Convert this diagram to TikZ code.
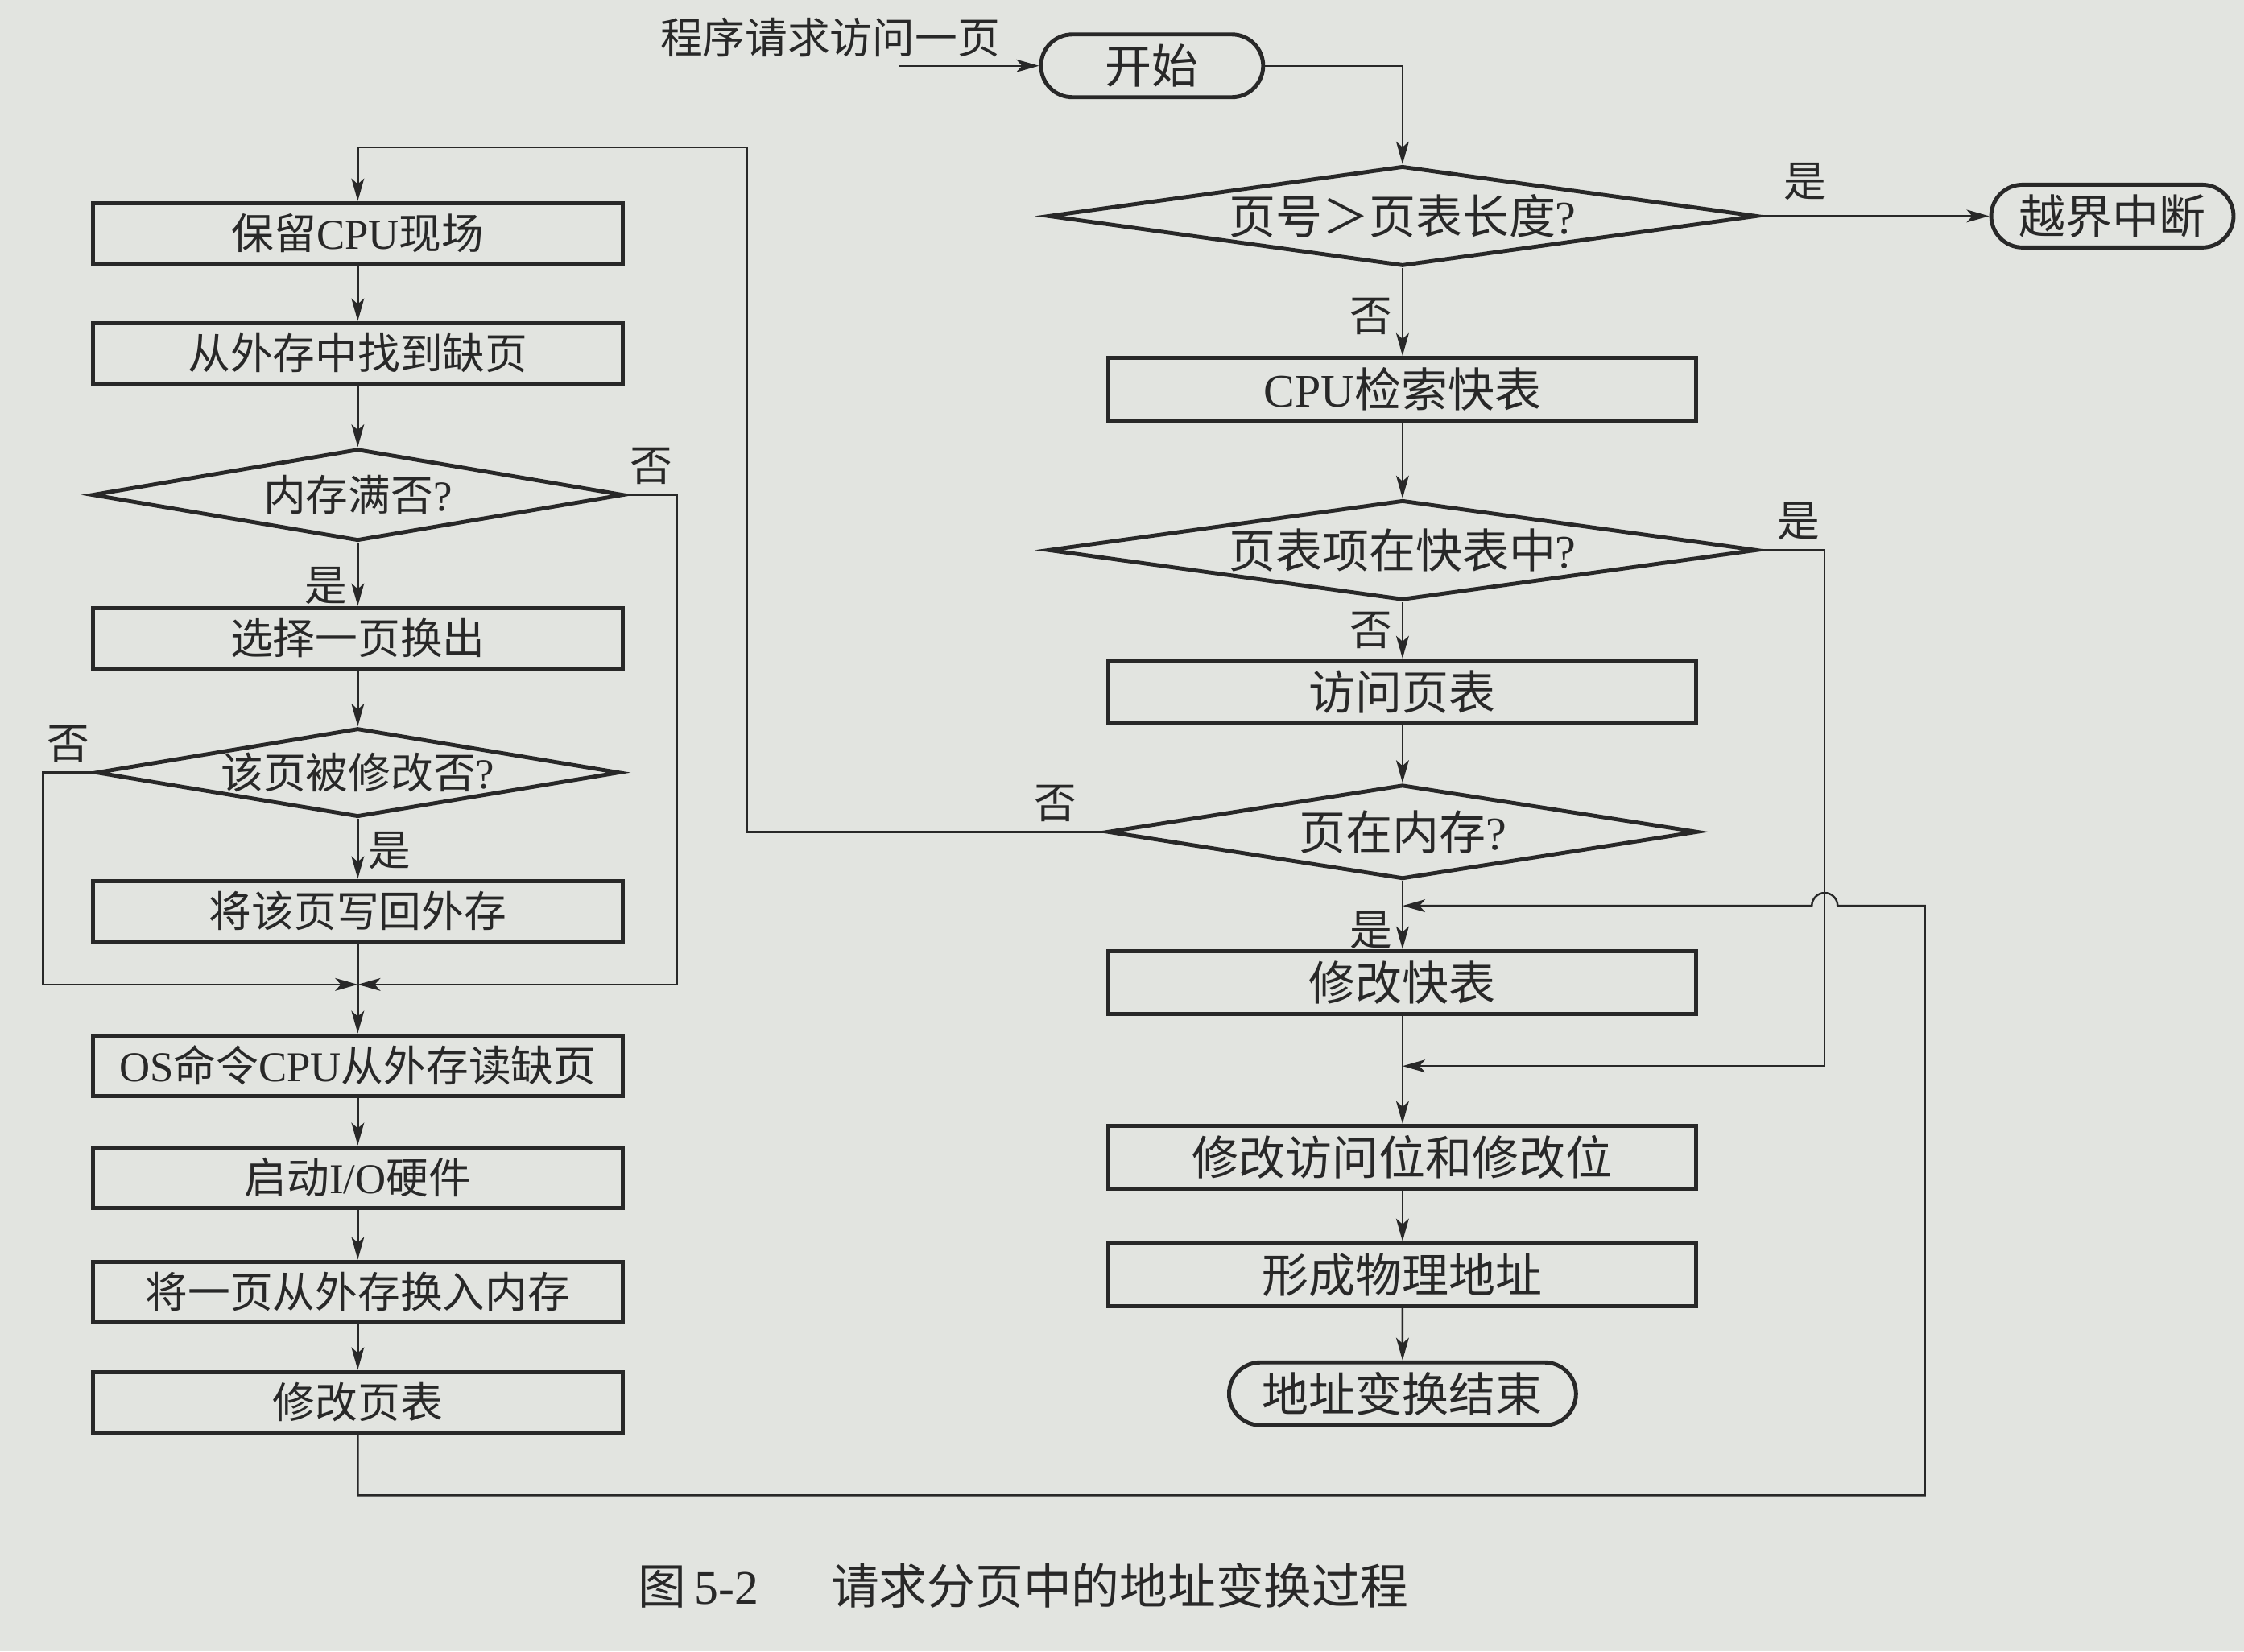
\documentclass[tikz,border=0pt]{standalone}
\usepackage{fontspec}
\setmainfont{Noto Sans CJK SC}
\newfontfamily\lat{Liberation Serif}
\usetikzlibrary{shapes.geometric,shapes.misc,arrows.meta,positioning}
\definecolor{paper}{RGB}{226,228,224}
\definecolor{ink}{RGB}{40,40,40}
\newcommand\ask[1]{\makebox[0pt]{#1}}

\begin{document}
\begin{tikzpicture}[x=0.017774cm,y=-0.017774cm,on grid,
  font=\fontsize{15pt}{18pt}\selectfont,>={Stealth[length=8pt,width=4.5pt,inset=2pt]},
  every node/.style={text=ink},
  line/.style={draw=ink,line width=0.7pt},
  big/.style={font=\fontsize{16.5pt}{19pt}\selectfont},
  proc/.style={draw=ink,line width=1.4pt,rectangle,minimum width=7.3cm,minimum height=0.78cm,inner sep=2pt},
  lproc/.style={proc,minimum width=6.58cm,minimum height=0.75cm},
  test/.style={draw=ink,line width=1.4pt,diamond,inner sep=0pt},
  term/.style={draw=ink,line width=1.4pt,rounded rectangle,minimum height=0.78cm,inner sep=2pt}]
 \fill[paper] (0,0) rectangle (1568,1154);
 \useasboundingbox (0,0) rectangle (1568,1154);
 % right column
 \node (req) at (580,26) {程序请求访问一页};
 \coordinate (reqarr) at (628,46);
 \node[term,big,minimum width=2.9cm] (start) at (805,46) {开始};
 \node[test,big,minimum width=8.8cm,minimum height=1.24cm] (len) at (980,151) {\ask{页号＞页表长度{\lat ?}}};
 \node[term,big,minimum width=3.15cm] (fault) at (1476,151) {越界中断};
 \node[proc,big] (tlb) [below=2.15cm of len] {{\lat CPU}检索快表};
 \node[test,big,minimum width=8.8cm,minimum height=1.24cm] (intlb) [below=2cm of tlb] {\ask{页表项在快表中{\lat ?}}};
 \node[proc,big] (pt) [below=1.76cm of intlb] {访问页表};
 \node[test,big,minimum width=7.33cm,minimum height=1.17cm] (inmem) [below=1.74cm of pt] {\ask{页在内存{\lat ?}}};
 \node[proc,big] (updtlb) [below=1.87cm of inmem] {修改快表};
 \node[proc,big] (bits) [below=2.17cm of updtlb] {修改访问位和修改位};
 \node[proc,big] (phys) [below=1.46cm of bits] {形成物理地址};
 \node[term,big,minimum width=4.45cm] (done) [below=1.48cm of phys] {地址变换结束};
 % left column
 \node[lproc] (save) at (250,163) {保留{\lat CPU}现场};
 \node[lproc] (find) [below=1.49cm of save] {从外存中找到缺页};
 \node[test,minimum width=6.6cm,minimum height=1.14cm] (full) [below=1.76cm of find] {\ask{内存满否{\lat ?}}};
 \node[lproc] (out) [below=1.78cm of full] {选择一页换出};
 \node[test,minimum width=6.5cm,minimum height=1.1cm] (dirty) [below=1.67cm of out] {\ask{该页被修改否{\lat ?}}};
 \node[lproc] (wb) [below=1.72cm of dirty] {将该页写回外存};
 \node[lproc] (os) [below=1.92cm of wb] {{\lat OS}命令{\lat CPU}从外存读缺页};
 \node[lproc] (io) [below=1.39cm of os] {启动{\lat I/O}硬件};
 \node[lproc] (load) [below=1.42cm of io] {将一页从外存换入内存};
 \node[lproc] (updpt) [below=1.37cm of load] {修改页表};
 \node[font=\fontsize{17pt}{20pt}\selectfont] (cap) at (715,1108) {图\,{\lat 5-2}\hspace{0.9cm}请求分页中的地址变换过程};
 % turning points
 \coordinate (jn) at (250,688);
 \coordinate (jnR) at (473,688);
 \coordinate (jnL) at (30,688);
 \coordinate (miss) at (522,103);
 \coordinate (hit) at (1275,745);
 \coordinate (hitend) at (980,745);
 \coordinate (back) at (980,633);
 \coordinate (loopB) at (1345,1045);
 \coordinate (loopT) at (1345,633);
 \coordinate (hopR) at (1284,633);
 % connectors
 \draw[line,->] (reqarr) -- (start);
 \draw[line,->] (start) -| (len);
 \draw[line,->] (len) -- node[above,pos=0.2,yshift=2pt] {是} (fault);
 \draw[line,->] (len) -- node[left,pos=0.55] {否} (tlb);
 \draw[line,->] (tlb) -- (intlb);
 \draw[line,->] (intlb) -- node[left,pos=0.5] {否} (pt);
 \draw[line,->] (pt) -- (inmem);
 \draw[line,->] (inmem) -- node[left,pos=0.72] {是} (updtlb);
 \draw[line,->] (updtlb) -- (bits);
 \draw[line,->] (bits) -- (phys);
 \draw[line,->] (phys) -- (done);
 \draw[line,->] (intlb.east) -| node[above,pos=0.3] {是} (hit) -- (hitend);
 \draw[line,->] (inmem.west) -| node[above,pos=0.07] {否} (miss) -| (save.north);
 \draw[line,->] (save) -- (find);
 \draw[line,->] (find) -- (full);
 \draw[line,->] (full) -- node[left,pos=0.68] {是} (out);
 \draw[line,->] (out) -- (dirty);
 \draw[line,->] (dirty) -- node[right,pos=0.53] {是} (wb);
 \draw[line,->] (wb) -- (os);
 \draw[line,->] (full.east) -| node[above,pos=0.25] {否} (jnR) -- (jn);
 \draw[line,->] (dirty.west) -| node[above,pos=0.25] {否} (jnL) -- (jn);
 \draw[line,->] (os) -- (io);
 \draw[line,->] (io) -- (load);
 \draw[line,->] (load) -- (updpt);
 \draw[line,->] (updpt) |- (loopB) -- (loopT) -- (hopR)
   arc[start angle=0,end angle=180,radius=0.16cm] -- (back);
\end{tikzpicture}
\end{document}
